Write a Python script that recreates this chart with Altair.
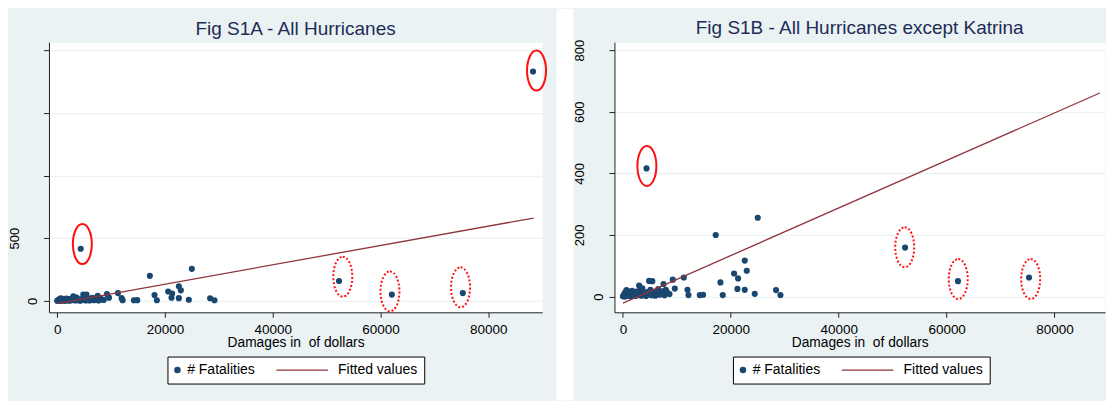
import altair as alt
import pandas as pd

# ---------------- data ----------------
damages = [0, 150, 250, 350, 450, 550, 650, 750, 850, 950, 1100, 1200, 1350, 1450,
           1600, 1700, 1850, 2000, 2150, 2300, 2500, 2700, 2900, 3000, 3150, 3400,
           3600, 3800, 4000, 4300, 4500, 4700, 4850, 5450, 5100, 5300, 5700, 6000,
           6300, 6550, 6800, 7100, 7300, 7520, 7700, 7950, 8200, 8630, 9240, 9610,
           11280, 11960, 12150, 14240, 14860, 17200, 18070, 18500, 20600, 21220,
           21340, 22580, 22580, 22950, 24430, 24990, 28380, 29190, 52300, 62100,
           75270, 4370]
fatalities = [1, 3, 9, 0, 14, 5, 21, 2, 11, 17, 4, 8, 15, 1,
              6, 19, 3, 12, 7, 2, 16, 5, 9, 36, 20, 3,
              27, 12, 6, 2, 15, 8, 51, 50, 22, 4, 12, 3,
              18, 24, 6, 9, 17, 41, 4, 22, 13, 8, 55, 26,
              62, 22, 5, 5, 6, 200, 46, 5, 75, 25,
              59, 117, 22, 84, 9, 256, 21, 5, 159, 50,
              62, 416]
katrina_damage = [88300]
katrina_fatalities = [1830]

fit_damage = [0, 88400]
fit_values = [-21, 661]

# annotation ellipses (centres)
a_solid_x = [88950, 4675]
a_solid_y = [1837, 453]
a_dot_x = [53000, 61750, 74850]
a_dot_y = [193, 76, 108]
b_solid_x = [4440]
b_solid_y = [424]
b_dot_x = [52230, 62150, 75580]
b_dot_y = [160, 57, 57]

x_ticks = [0, 20000, 40000, 60000, 80000]
a_y_ticks = [0, 500, 1000, 1500, 2000]
b_y_ticks = [0, 200, 400, 600, 800]
series = ["# Fatalities", "Fitted values"]

# ---------------- styling ----------------
NAVY = "#1A476F"
MAROON = "#90353B"
BG = "#EAF2F3"
RED = "#FF1010"
TITLE_C = "#1E2C57"
FONT = "Liberation Sans"
ELLIPSE = ("M0,-1C0.262,-1 0.475,-0.552 0.475,0C0.475,0.552 0.262,1 0,1"
           "C-0.262,1 -0.475,0.552 -0.475,0C-0.475,-0.552 -0.262,-1 0,-1Z")
LINE_SYM = "M-16.05,0L-0.12,0"

H = 270.4


def panel(title, pts, xdom, ydom, yticks, ylabel_expr, width, sx, sy, dx, dy, toff):
    xscale = alt.Scale(domain=xdom, nice=False, zero=False)
    yscale = alt.Scale(domain=ydom, nice=False, zero=False)
    xaxis = alt.Axis(values=x_ticks, format="d", title="Damages in \u00a0of dollars",
                     grid=False, labelFont=FONT, labelFontSize=13.5, labelColor="#000",
                     titleFont=FONT, titleFontSize=13.8, titleFontWeight="normal",
                     titleColor="#000", titlePadding=0, tickSize=5, labelPadding=5,
                     domainColor="#222", tickColor="#222", labelFlush=False)
    yaxis = alt.Axis(values=yticks, format="d", labelExpr=ylabel_expr, title=None,
                     grid=True, gridColor=BG, gridWidth=1.3,
                     labelAngle=270, labelAlign="center", labelBaseline="alphabetic",
                     labelFont=FONT, labelFontSize=13, labelColor="#000",
                     labelPadding={"condition": {"test": "datum.value == 0", "value": 6.5},
                                   "value": 25},
                     tickSize=5.5, domainColor="#222", tickColor="#222", labelFlush=False)
    legend = alt.Legend(title=None, orient="none", legendX=118.6, legendY=314.7,
                        direction="horizontal", strokeColor="#000", fillColor="white",
                        padding=6.5, cornerRadius=0, labelFont=FONT, labelFontSize=14,
                        labelColor="#000", labelOffset=2.75, symbolOffset=-3.5,
                        symbolSize=42, symbolStrokeWidth=1.3, columnPadding=18)
    points = alt.Chart(pts).mark_point(filled=True, size=38, opacity=1).encode(
        x=alt.X("damage:Q", scale=xscale, axis=xaxis),
        y=alt.Y("deaths:Q", scale=yscale, axis=yaxis),
        fill=alt.Fill("series:N", scale=alt.Scale(domain=series, range=[NAVY, "transparent"]),
                      legend=legend),
        stroke=alt.Stroke("series:N", scale=alt.Scale(domain=series, range=["transparent", MAROON]),
                          legend=legend),
        shape=alt.Shape("series:N", scale=alt.Scale(domain=series, range=["circle", LINE_SYM]),
                        legend=legend),
    )
    fit = alt.Chart(pd.DataFrame({"damage": fit_damage, "deaths": fit_values})).mark_line(
        color=MAROON, strokeWidth=1.3).encode(x="damage:Q", y="deaths:Q")
    solid = alt.Chart(pd.DataFrame({"damage": sx, "deaths": sy})).mark_point(
        shape=ELLIPSE, size=1600, filled=False, stroke=RED, strokeWidth=2, opacity=1
    ).encode(x="damage:Q", y="deaths:Q")
    dotted = alt.Chart(pd.DataFrame({"damage": dx, "deaths": dy})).mark_point(
        shape=ELLIPSE, size=1600, filled=False, stroke=RED, strokeWidth=2, opacity=1,
        strokeDash=[2, 2]
    ).encode(x="damage:Q", y="deaths:Q")
    return alt.layer(points, fit, solid, dotted).properties(
        width=width, height=H,
        title=alt.Title(title, anchor="middle", frame="group", fontSize=19, font=FONT,
                        color=TITLE_C, fontWeight="normal", baseline="alphabetic", offset=toff),
        view=alt.ViewBackground(fill="white", stroke="transparent"),
    )


pts_a = pd.DataFrame({"damage": damages + katrina_damage,
                      "deaths": fatalities + katrina_fatalities,
                      "series": series[0]})
pts_b = pd.DataFrame({"damage": damages, "deaths": fatalities, "series": series[0]})

left = panel("Fig S1A - All Hurricanes", pts_a, [-1521, 89985], [-91, 2064], a_y_ticks,
             "datum.value <= 500 ? datum.label : ''", 493.6,
             a_solid_x, a_solid_y, a_dot_x, a_dot_y, -12.1)
right = panel("Fig S1B - All Hurricanes except Katrina", pts_b, [-1574, 89352], [-51, 826],
              b_y_ticks, "datum.label", 491, b_solid_x, b_solid_y, b_dot_x, b_dot_y, -14.1)

gap = alt.Chart(pd.DataFrame({"k": [0]})).mark_rect(color="white", clip=False).encode(
    x=alt.value(14.1), x2=alt.value(31.1), y=alt.value(-33.3), y2=alt.value(358.7)
).properties(width=71.7, height=H,
             view=alt.ViewBackground(fill="transparent", stroke="transparent"))

chart = alt.hconcat(left, gap, right, spacing=0, bounds="flush").properties(
    background=BG, padding=0
).resolve_scale(x="independent", y="independent", fill="independent",
                stroke="independent", shape="independent")

chart.save("out.html", embed_options={"renderer": "svg", "actions": False})
